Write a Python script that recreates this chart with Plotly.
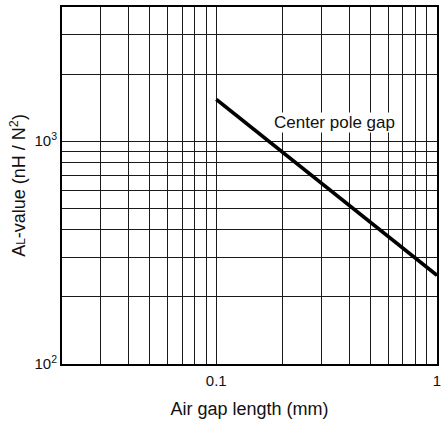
import numpy as np
import plotly.graph_objects as go

# Data (log-log)
gap_mm = [0.1, 0.2, 0.3, 0.5, 0.7, 1.0]
al_value = [1540, 890, 647, 431, 331, 250]
series_label = "Center pole gap"

x_label_vals = [0.1, 1.0]
x_label_text = ["0.1", "1"]
x_minor_grid = [0.02, 0.03, 0.04, 0.05, 0.06, 0.07, 0.08, 0.09,
                0.2, 0.3, 0.4, 0.5, 0.6, 0.7, 0.8, 0.9]
y_label_vals = [100, 1000]
y_label_text = ["10<sup>2</sup>", "10<sup>3</sup>"]
y_minor_grid = [200, 300, 400, 500, 600, 700, 800, 900, 2000, 3000]

FONT = "Liberation Sans, Arial, Helvetica, sans-serif"
GRID = "#1a1a1a"

fig = go.Figure()
fig.add_trace(go.Scatter(x=gap_mm, y=al_value, mode="lines",
                         line=dict(color="black", width=3.8),
                         showlegend=False, hoverinfo="skip"))

fig.add_annotation(x=np.log10(0.345), y=np.log10(1210), xref="x", yref="y",
                   text=series_label, showarrow=False,
                   font=dict(family=FONT, size=17, color="#111"),
                   bgcolor="white", borderpad=0)

fig.update_xaxes(type="log", range=[np.log10(0.02), 0],
                 tickmode="array", tickvals=x_label_vals, ticktext=x_label_text,
                 showgrid=True, gridcolor=GRID, gridwidth=1,
                 minor=dict(tickmode="array", tickvals=x_minor_grid,
                            showgrid=True, gridcolor=GRID, gridwidth=1, ticks=""),
                 showline=True, linecolor="black", linewidth=2, mirror=True,
                 ticks="outside", ticklen=2, tickcolor="rgba(0,0,0,0)",
                 tickfont=dict(family=FONT, size=15, color="#111"),
                 title=dict(text="Air gap length (mm)",
                            font=dict(family=FONT, size=18, color="#111"),
                            standoff=14),
                 zeroline=False)
fig.update_yaxes(type="log", range=[2, np.log10(4000)],
                 tickmode="array", tickvals=y_label_vals, ticktext=y_label_text,
                 showgrid=True, gridcolor=GRID, gridwidth=1,
                 minor=dict(tickmode="array", tickvals=y_minor_grid,
                            showgrid=True, gridcolor=GRID, gridwidth=1, ticks=""),
                 showline=True, linecolor="black", linewidth=2, mirror=True,
                 ticks="outside", ticklen=0, tickcolor="rgba(0,0,0,0)",
                 tickfont=dict(family=FONT, size=15, color="#111"),
                 title=dict(text="A<span style='font-size:12px'>L</span>-value (nH / N<sup>2</sup>)",
                            font=dict(family=FONT, size=18, color="#111"),
                            standoff=4),
                 zeroline=False)

fig.update_layout(width=444, height=429,
                  margin=dict(l=62, r=3, t=7, b=65),
                  paper_bgcolor="white", plot_bgcolor="white",
                  showlegend=False)

fig.write_html("out.html", config={"displayModeBar": False},
               post_script="document.body.style.margin='0';document.body.style.overflow='hidden';")
